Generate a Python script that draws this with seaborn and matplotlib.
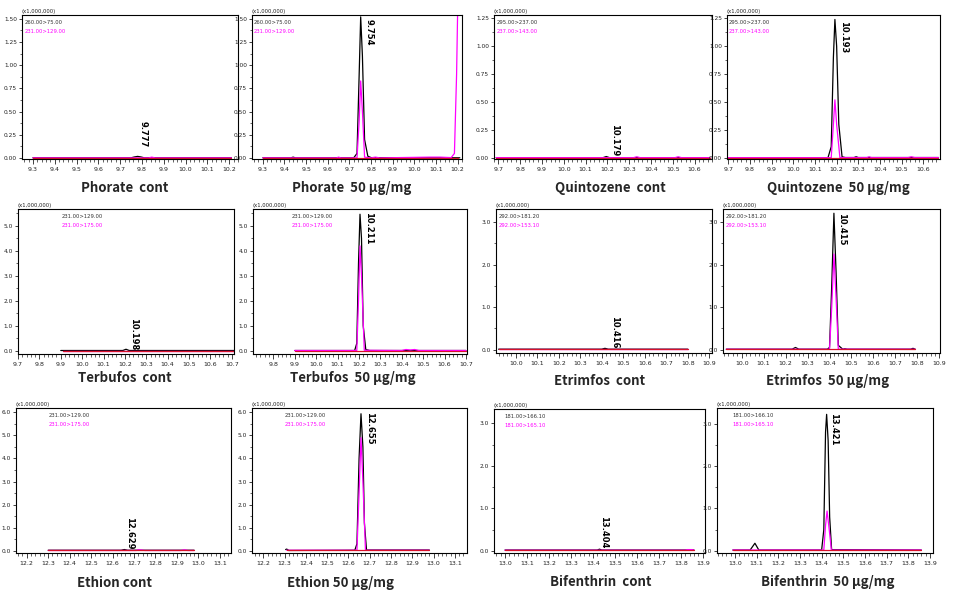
import matplotlib
matplotlib.use('Agg')
import seaborn as sns
from matplotlib import pyplot as plt
from matplotlib.ticker import MultipleLocator, FormatStrFormatter

sns.set_style("white")
plt.rcParams['font.family'] = ['DejaVu Sans']

W, H = 962, 598

# ---- chromatogram traces (time in min, intensity) ----
# quant = black trace, ref = magenta trace
phorate_cont_qt = [9.30, 9.75, 9.765, 9.78, 9.795, 9.81, 10.21]
phorate_cont_q = [0.003, 0.003, 0.012, 0.018, 0.012, 0.003, 0.003]
phorate_cont_rt = [9.30, 9.83, 9.845, 9.86, 10.21]
phorate_cont_r = [0.002, 0.002, 0.010, 0.002, 0.002]

phorate_50_qt = [9.30, 9.43, 9.44, 9.45, 9.72, 9.735, 9.745, 9.752, 9.76, 9.77, 9.785, 9.80, 10.21]
phorate_50_q = [0.003, 0.003, 0.01, 0.003, 0.003, 0.05, 0.9, 1.52, 1.1, 0.2, 0.02, 0.005, 0.003]
phorate_50_rt = [9.30, 9.64, 9.65, 9.66, 9.735, 9.745, 9.752, 9.76, 9.77, 9.80, 9.82, 9.84, 10.07, 10.12, 10.17, 10.185, 10.195, 10.20]
phorate_50_r = [0.002, 0.002, 0.01, 0.002, 0.002, 0.4, 0.83, 0.5, 0.01, 0.002, 0.01, 0.002, 0.01, 0.01, 0.005, 0.05, 0.9, 1.6]

quinto_cont_qt = [9.69, 10.18, 10.195, 10.21, 10.67]
quinto_cont_q = [0.002, 0.002, 0.012, 0.002, 0.002]
quinto_cont_rt = [9.69, 10.32, 10.335, 10.35, 10.51, 10.525, 10.54, 10.67]
quinto_cont_r = [0.002, 0.002, 0.01, 0.002, 0.002, 0.01, 0.002, 0.002]

quinto_50_qt = [9.70, 10.16, 10.175, 10.185, 10.192, 10.20, 10.21, 10.225, 10.24, 10.28, 10.29, 10.30, 10.67]
quinto_50_q = [0.002, 0.002, 0.1, 0.9, 1.24, 1.0, 0.3, 0.01, 0.003, 0.003, 0.01, 0.003, 0.003]
quinto_50_rt = [9.70, 10.175, 10.185, 10.192, 10.20, 10.215, 10.34, 10.35, 10.36, 10.53, 10.545, 10.56, 10.67]
quinto_50_r = [0.002, 0.002, 0.3, 0.52, 0.3, 0.003, 0.003, 0.01, 0.003, 0.003, 0.01, 0.003, 0.003]

terbu_cont_qt = [9.90, 10.19, 10.205, 10.22, 10.71]
terbu_cont_q = [0.01, 0.01, 0.06, 0.01, 0.01]
terbu_cont_rt = [9.91, 10.71]
terbu_cont_r = [0.01, 0.01]

terbu_50_qt = [9.90, 10.18, 10.19, 10.198, 10.205, 10.212, 10.22, 10.232, 10.25, 10.70]
terbu_50_q = [0.01, 0.01, 0.3, 3.5, 5.47, 4.5, 1.0, 0.05, 0.01, 0.01]
terbu_50_rt = [9.90, 10.19, 10.198, 10.205, 10.212, 10.225, 10.40, 10.42, 10.44, 10.46, 10.48, 10.70]
terbu_50_r = [0.01, 0.01, 2.0, 4.2, 3.0, 0.02, 0.01, 0.05, 0.03, 0.05, 0.01, 0.01]

etrim_cont_qt = [9.92, 10.40, 10.415, 10.43, 10.80]
etrim_cont_q = [0.01, 0.01, 0.03, 0.01, 0.01]
etrim_cont_rt = [9.92, 10.80]
etrim_cont_r = [0.008, 0.008]

etrim_50_qt = [9.93, 10.23, 10.245, 10.26, 10.39, 10.40, 10.41, 10.42, 10.43, 10.44, 10.46, 10.47, 10.48, 10.77, 10.78, 10.79]
etrim_50_q = [0.01, 0.01, 0.05, 0.01, 0.01, 0.05, 1.5, 3.21, 1.8, 0.1, 0.01, 0.02, 0.01, 0.01, 0.03, 0.01]
etrim_50_rt = [9.93, 10.40, 10.41, 10.42, 10.43, 10.44, 10.79]
etrim_50_r = [0.008, 0.008, 1.0, 2.25, 1.2, 0.01, 0.008]

ethion_cont_qt = [12.30, 12.64, 12.655, 12.67, 12.98]
ethion_cont_q = [0.02, 0.02, 0.05, 0.02, 0.02]
ethion_cont_rt = [12.30, 12.71, 12.72, 12.735, 12.75, 12.92, 12.935, 12.95, 12.98]
ethion_cont_r = [0.01, 0.01, 0.04, 0.03, 0.01, 0.01, 0.04, 0.01, 0.01]

ethion_50_qt = [12.305, 12.31, 12.32, 12.63, 12.64, 12.65, 12.659, 12.668, 12.675, 12.685, 12.98]
ethion_50_q = [0.05, 0.07, 0.01, 0.02, 0.3, 4.0, 5.94, 4.5, 1.2, 0.03, 0.03]
ethion_50_rt = [12.31, 12.64, 12.65, 12.659, 12.668, 12.68, 12.98]
ethion_50_r = [0.02, 0.02, 2.5, 4.9, 3.0, 0.02, 0.02]

bifen_cont_qt = [13.00, 13.42, 13.43, 13.44, 13.86]
bifen_cont_q = [0.02, 0.02, 0.04, 0.02, 0.02]
bifen_cont_rt = [13.00, 13.82, 13.83, 13.85, 13.86]
bifen_cont_r = [0.015, 0.015, 0.03, 0.03, 0.015]

bifen_50_qt = [12.99, 13.07, 13.092, 13.11, 13.40, 13.41, 13.418, 13.423, 13.43, 13.437, 13.446, 13.86]
bifen_50_q = [0.02, 0.02, 0.18, 0.02, 0.02, 0.5, 2.8, 3.22, 2.6, 0.8, 0.03, 0.02]
bifen_50_rt = [12.99, 13.41, 13.418, 13.425, 13.435, 13.445, 13.86]
bifen_50_r = [0.02, 0.02, 0.6, 0.94, 0.5, 0.02, 0.02]

titles = ["Phorate  cont", "Phorate  50 \u03bcg/mg", "Quintozene  cont", "Quintozene  50 \u03bcg/mg",
          "Terbufos  cont", "Terbufos  50 \u03bcg/mg", "Etrimfos  cont", "Etrimfos  50 \u03bcg/mg",
          "Ethion cont", "Ethion 50 \u03bcg/mg", "Bifenthrin  cont", "Bifenthrin  50 \u03bcg/mg"]
peak_rt = ["9.777", "9.754", "10.179", "10.193", "10.198", "10.211",
           "10.416", "10.415", "12.629", "12.655", "13.404", "13.421"]
transitions = [("260.00>75.00", "231.00>129.00"), ("260.00>75.00", "231.00>129.00"),
               ("295.00>237.00", "237.00>143.00"), ("295.00>237.00", "237.00>143.00"),
               ("231.00>129.00", "231.00>175.00"), ("231.00>129.00", "231.00>175.00"),
               ("292.00>181.20", "292.00>153.10"), ("292.00>181.20", "292.00>153.10"),
               ("231.00>129.00", "231.00>175.00"), ("231.00>129.00", "231.00>175.00"),
               ("181.00>166.10", "181.00>165.10"), ("181.00>166.10", "181.00>165.10")]

traces = [
    (phorate_cont_qt, phorate_cont_q, phorate_cont_rt, phorate_cont_r),
    (phorate_50_qt, phorate_50_q, phorate_50_rt, phorate_50_r),
    (quinto_cont_qt, quinto_cont_q, quinto_cont_rt, quinto_cont_r),
    (quinto_50_qt, quinto_50_q, quinto_50_rt, quinto_50_r),
    (terbu_cont_qt, terbu_cont_q, terbu_cont_rt, terbu_cont_r),
    (terbu_50_qt, terbu_50_q, terbu_50_rt, terbu_50_r),
    (etrim_cont_qt, etrim_cont_q, etrim_cont_rt, etrim_cont_r),
    (etrim_50_qt, etrim_50_q, etrim_50_rt, etrim_50_r),
    (ethion_cont_qt, ethion_cont_q, ethion_cont_rt, ethion_cont_r),
    (ethion_50_qt, ethion_50_q, ethion_50_rt, ethion_50_r),
    (bifen_cont_qt, bifen_cont_q, bifen_cont_rt, bifen_cont_r),
    (bifen_50_qt, bifen_50_q, bifen_50_rt, bifen_50_r),
]

# ---- layout: axes box in pixels (left, top, right, bottom), limits, label spots ----
layout = [
    dict(box=(22, 15, 238, 159), xlim=(9.25, 10.24), ylim=(-0.01, 1.54), ystep=0.25, yfmt='%.2f',
         lab=(9.785, 0.12), leg=0.01, tpos=(125, 188)),
    dict(box=(252, 15, 462, 159), xlim=(9.25, 10.22), ylim=(-0.01, 1.54), ystep=0.25, yfmt='%.2f',
         lab=(9.77, 1.21), leg=0.01, tpos=(352, 188)),
    dict(box=(494, 15, 712, 159), xlim=(9.68, 10.68), ylim=(-0.01, 1.28), ystep=0.25, yfmt='%.2f',
         lab=(10.21, 0.015), leg=0.01, tpos=(610, 188)),
    dict(box=(727, 15, 940, 159), xlim=(9.694, 10.677), ylim=(-0.01, 1.28), ystep=0.25, yfmt='%.2f',
         lab=(10.21, 0.94), leg=0.01, tpos=(838, 188)),
    dict(box=(18, 209, 234, 354), xlim=(9.70, 10.71), ylim=(-0.13, 5.68), ystep=1.0, yfmt='%.1f',
         lab=(10.22, 0.04), leg=0.2, tpos=(125, 378)),
    dict(box=(253, 209, 467, 354), xlim=(9.705, 10.705), ylim=(-0.13, 5.68), ystep=1.0, yfmt='%.1f',
         lab=(10.225, 4.24), leg=0.18, tpos=(353, 378)),
    dict(box=(496, 209, 712, 353), xlim=(9.908, 10.913), ylim=(-0.08, 3.31), ystep=1.0, yfmt='%.1f',
         lab=(10.44, 0.02), leg=0.01, tpos=(600, 381)),
    dict(box=(723, 209, 940, 353), xlim=(9.915, 10.903), ylim=(-0.08, 3.31), ystep=1.0, yfmt='%.1f',
         lab=(10.435, 2.45), leg=0.01, tpos=(828, 381)),
    dict(box=(16, 408, 231, 553), xlim=(12.15, 13.152), ylim=(-0.1, 6.19), ystep=1.0, yfmt='%.1f',
         lab=(12.66, 0.07), leg=0.15, tpos=(115, 583)),
    dict(box=(252, 408, 467, 553), xlim=(12.147, 13.157), ylim=(-0.1, 6.19), ystep=1.0, yfmt='%.1f',
         lab=(12.68, 4.6), leg=0.15, tpos=(341, 583)),
    dict(box=(494, 409, 705, 553), xlim=(12.95, 13.91), ylim=(-0.05, 3.34), ystep=1.0, yfmt='%.1f',
         lab=(13.43, 0.06), leg=0.05, tpos=(601, 582)),
    dict(box=(717, 408, 933, 553), xlim=(12.917, 13.914), ylim=(-0.05, 3.37), ystep=1.0, yfmt='%.1f',
         lab=(13.435, 2.49), leg=0.07, tpos=(828, 582)),
]

fig = plt.figure(figsize=(W / 100, H / 100), dpi=100)

for i, lay in enumerate(layout):
    l, t, r, b = lay['box']
    ax = fig.add_axes([l / W, 1 - b / H, (r - l) / W, (b - t) / H])
    qt, q, rt, rv = traces[i]
    sns.lineplot(x=qt, y=q, ax=ax, color='black', linewidth=0.9, estimator=None, sort=False)
    sns.lineplot(x=rt, y=rv, ax=ax, color='#ff00ff', linewidth=0.9, estimator=None, sort=False)
    # integration baseline
    sns.lineplot(x=[rt[0], rt[-1]], y=[rv[0], rv[0]], ax=ax, color='#d8102a', linewidth=0.9,
                 estimator=None, sort=False)

    ax.set_xlim(*lay['xlim'])
    ax.set_ylim(*lay['ylim'])
    ax.xaxis.set_major_locator(MultipleLocator(0.1))
    ax.xaxis.set_minor_locator(MultipleLocator(0.02))
    ax.xaxis.set_major_formatter(FormatStrFormatter('%.1f'))
    ax.yaxis.set_major_locator(MultipleLocator(lay['ystep']))
    ax.yaxis.set_minor_locator(MultipleLocator(lay['ystep'] / 2))
    ax.yaxis.set_major_formatter(FormatStrFormatter(lay['yfmt']))
    ax.tick_params(axis='x', which='major', direction='out', length=3.5, width=0.6, labelsize=4.5,
                   pad=2.5, colors='#222222', bottom=True)
    ax.tick_params(axis='y', which='major', direction='out', length=2.5, width=0.6, labelsize=4.2,
                   pad=1.0, colors='#222222', left=True)
    ax.tick_params(which='minor', direction='out', length=1.8, width=0.5, bottom=True, left=True)
    for sp in ax.spines.values():
        sp.set_color('black')
        sp.set_linewidth(0.8)

    ax.text(0.0, 1.004, "(x1,000,000)", transform=ax.transAxes, ha='left', va='bottom',
            fontsize=3.8, color='#222222')
    ax.text(lay['leg'], 0.95, transitions[i][0], transform=ax.transAxes, ha='left', va='center',
            fontsize=3.8, color='#333333')
    ax.text(lay['leg'], 0.885, transitions[i][1], transform=ax.transAxes, ha='left', va='center',
            fontsize=3.8, color='#ff00ff')
    ax.text(lay['lab'][0], lay['lab'][1], peak_rt[i], rotation=270, ha='left', va='bottom',
            fontsize=6, fontweight='heavy', color='black', clip_on=False)

    fig.text(lay['tpos'][0] / W, 1 - lay['tpos'][1] / H, titles[i], ha='center', va='center',
             fontsize=9.5, fontweight='bold', family=['Noto Sans CJK KR', 'DejaVu Sans'])

fig.savefig('out.png', dpi=100)
